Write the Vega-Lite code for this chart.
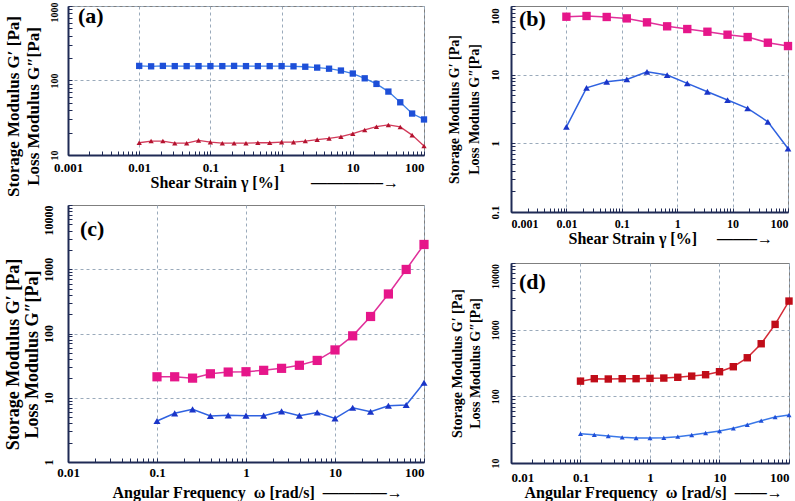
{
  "$schema": "https://vega.github.io/schema/vega-lite/v6.json",
  "background": "white",
  "padding": {"left": 3, "top": 1, "right": 0, "bottom": 0},
  "config": {
    "view": {"stroke": "#7f7f7f", "strokeWidth": 1},
    "axis": {
      "domainColor": "#1f2a55", "domainWidth": 2,
      "gridColor": "#9aaabb", "gridDash": [3, 3], "gridWidth": 1,
      "tickColor": "#1f2a55", "tickSize": -4, "tickWidth": 1,
      "labelFont": "Liberation Serif", "labelFontWeight": "bold", "labelColor": "#000",
      "titleFont": "Liberation Serif", "titleFontWeight": "bold", "titleColor": "#000",
      "labelOverlap": false
    },
    "title": {"anchor": "start", "frame": "group", "orient": "top", "baseline": "top", "fontSize": 22, "font": "Liberation Serif", "fontWeight": "bold", "color": "#000"}
  },
  "data": {"values": [
    {"panel":"a","series":"storage","x":0.01,"y":157},{"panel":"a","series":"storage","x":0.0147,"y":155},{"panel":"a","series":"storage","x":0.0215,"y":157},{"panel":"a","series":"storage","x":0.0316,"y":156},{"panel":"a","series":"storage","x":0.0464,"y":156},{"panel":"a","series":"storage","x":0.0681,"y":156},{"panel":"a","series":"storage","x":0.1,"y":156},{"panel":"a","series":"storage","x":0.147,"y":156},{"panel":"a","series":"storage","x":0.215,"y":157},{"panel":"a","series":"storage","x":0.316,"y":156},{"panel":"a","series":"storage","x":0.464,"y":156},{"panel":"a","series":"storage","x":0.681,"y":156},{"panel":"a","series":"storage","x":1,"y":156},{"panel":"a","series":"storage","x":1.47,"y":155},{"panel":"a","series":"storage","x":2.15,"y":153},{"panel":"a","series":"storage","x":3.16,"y":149},{"panel":"a","series":"storage","x":4.64,"y":144},{"panel":"a","series":"storage","x":6.81,"y":136},{"panel":"a","series":"storage","x":10,"y":124},{"panel":"a","series":"storage","x":14.7,"y":107},{"panel":"a","series":"storage","x":21.5,"y":90},{"panel":"a","series":"storage","x":31.6,"y":71},{"panel":"a","series":"storage","x":46.4,"y":51},{"panel":"a","series":"storage","x":68.1,"y":36},{"panel":"a","series":"storage","x":100,"y":30},
    {"panel":"a","series":"loss","x":0.01,"y":14.6},{"panel":"a","series":"loss","x":0.0147,"y":15.4},{"panel":"a","series":"loss","x":0.0215,"y":15.4},{"panel":"a","series":"loss","x":0.0316,"y":14.4},{"panel":"a","series":"loss","x":0.0464,"y":14.4},{"panel":"a","series":"loss","x":0.0681,"y":15.7},{"panel":"a","series":"loss","x":0.1,"y":14.9},{"panel":"a","series":"loss","x":0.147,"y":14.4},{"panel":"a","series":"loss","x":0.215,"y":14.4},{"panel":"a","series":"loss","x":0.316,"y":14.4},{"panel":"a","series":"loss","x":0.464,"y":14.6},{"panel":"a","series":"loss","x":0.681,"y":14.6},{"panel":"a","series":"loss","x":1,"y":14.9},{"panel":"a","series":"loss","x":1.47,"y":14.9},{"panel":"a","series":"loss","x":2.15,"y":15.4},{"panel":"a","series":"loss","x":3.16,"y":16.1},{"panel":"a","series":"loss","x":4.64,"y":16.7},{"panel":"a","series":"loss","x":6.81,"y":17.6},{"panel":"a","series":"loss","x":10,"y":19.3},{"panel":"a","series":"loss","x":14.7,"y":21.7},{"panel":"a","series":"loss","x":21.5,"y":24},{"panel":"a","series":"loss","x":31.6,"y":25.3},{"panel":"a","series":"loss","x":46.4,"y":23.8},{"panel":"a","series":"loss","x":68.1,"y":18.5},{"panel":"a","series":"loss","x":100,"y":13.2},
    {"panel":"b","series":"storage","x":0.01,"y":69.8},{"panel":"b","series":"storage","x":0.0231,"y":71.5},{"panel":"b","series":"storage","x":0.0534,"y":69.2},{"panel":"b","series":"storage","x":0.123,"y":66},{"panel":"b","series":"storage","x":0.285,"y":57.8},{"panel":"b","series":"storage","x":0.658,"y":50.6},{"panel":"b","series":"storage","x":1.52,"y":46.2},{"panel":"b","series":"storage","x":3.51,"y":42.2},{"panel":"b","series":"storage","x":8.11,"y":38.2},{"panel":"b","series":"storage","x":18.7,"y":35.3},{"panel":"b","series":"storage","x":43.3,"y":29.2},{"panel":"b","series":"storage","x":100,"y":26.1},
    {"panel":"b","series":"loss","x":0.01,"y":1.74},{"panel":"b","series":"loss","x":0.0231,"y":6.44},{"panel":"b","series":"loss","x":0.0534,"y":7.88},{"panel":"b","series":"loss","x":0.123,"y":8.53},{"panel":"b","series":"loss","x":0.285,"y":11.0},{"panel":"b","series":"loss","x":0.658,"y":9.86},{"panel":"b","series":"loss","x":1.52,"y":7.46},{"panel":"b","series":"loss","x":3.51,"y":5.64},{"panel":"b","series":"loss","x":8.11,"y":4.27},{"panel":"b","series":"loss","x":18.7,"y":3.23},{"panel":"b","series":"loss","x":43.3,"y":2.06},{"panel":"b","series":"loss","x":100,"y":0.84},
    {"panel":"c","series":"storage","x":0.1,"y":21.2},{"panel":"c","series":"storage","x":0.158,"y":21.2},{"panel":"c","series":"storage","x":0.251,"y":20.2},{"panel":"c","series":"storage","x":0.398,"y":23.6},{"panel":"c","series":"storage","x":0.631,"y":25.1},{"panel":"c","series":"storage","x":1,"y":25.4},{"panel":"c","series":"storage","x":1.58,"y":26.7},{"panel":"c","series":"storage","x":2.51,"y":28.7},{"panel":"c","series":"storage","x":3.98,"y":32},{"panel":"c","series":"storage","x":6.31,"y":38.1},{"panel":"c","series":"storage","x":10,"y":55.5},{"panel":"c","series":"storage","x":15.8,"y":92},{"panel":"c","series":"storage","x":25.1,"y":184},{"panel":"c","series":"storage","x":39.8,"y":412},{"panel":"c","series":"storage","x":63.1,"y":993},{"panel":"c","series":"storage","x":100,"y":2430},
    {"panel":"c","series":"loss","x":0.1,"y":4.34},{"panel":"c","series":"loss","x":0.158,"y":5.72},{"panel":"c","series":"loss","x":0.251,"y":6.59},{"panel":"c","series":"loss","x":0.398,"y":5.19},{"panel":"c","series":"loss","x":0.631,"y":5.32},{"panel":"c","series":"loss","x":1,"y":5.26},{"panel":"c","series":"loss","x":1.58,"y":5.26},{"panel":"c","series":"loss","x":2.51,"y":6.14},{"panel":"c","series":"loss","x":3.98,"y":5.26},{"panel":"c","series":"loss","x":6.31,"y":5.9},{"panel":"c","series":"loss","x":10,"y":4.78},{"panel":"c","series":"loss","x":15.8,"y":7.0},{"panel":"c","series":"loss","x":25.1,"y":6.06},{"panel":"c","series":"loss","x":39.8,"y":7.5},{"panel":"c","series":"loss","x":63.1,"y":7.7},{"panel":"c","series":"loss","x":100,"y":17.1},
    {"panel":"d","series":"storage","x":0.1,"y":169},{"panel":"d","series":"storage","x":0.158,"y":184},{"panel":"d","series":"storage","x":0.251,"y":182},{"panel":"d","series":"storage","x":0.398,"y":184},{"panel":"d","series":"storage","x":0.631,"y":184},{"panel":"d","series":"storage","x":1,"y":186},{"panel":"d","series":"storage","x":1.58,"y":188},{"panel":"d","series":"storage","x":2.51,"y":193},{"panel":"d","series":"storage","x":3.98,"y":201},{"panel":"d","series":"storage","x":6.31,"y":211},{"panel":"d","series":"storage","x":10,"y":234},{"panel":"d","series":"storage","x":15.8,"y":278},{"panel":"d","series":"storage","x":25.1,"y":379},{"panel":"d","series":"storage","x":39.8,"y":615},{"panel":"d","series":"storage","x":63.1,"y":1200},{"panel":"d","series":"storage","x":100,"y":2685},
    {"panel":"d","series":"loss","x":0.1,"y":27.5},{"panel":"d","series":"loss","x":0.158,"y":26.5},{"panel":"d","series":"loss","x":0.251,"y":25.4},{"panel":"d","series":"loss","x":0.398,"y":24.3},{"panel":"d","series":"loss","x":0.631,"y":23.7},{"panel":"d","series":"loss","x":1,"y":23.7},{"panel":"d","series":"loss","x":1.58,"y":23.9},{"panel":"d","series":"loss","x":2.51,"y":24.8},{"panel":"d","series":"loss","x":3.98,"y":26.3},{"panel":"d","series":"loss","x":6.31,"y":28.2},{"panel":"d","series":"loss","x":10,"y":30.2},{"panel":"d","series":"loss","x":15.8,"y":33.1},{"panel":"d","series":"loss","x":25.1,"y":37.5},{"panel":"d","series":"loss","x":39.8,"y":43.1},{"panel":"d","series":"loss","x":63.1,"y":49},{"panel":"d","series":"loss","x":100,"y":52.5}
  ]},
  "spacing": 16,
  "resolve": {"scale": {"x": "independent", "y": "independent", "stroke": "independent", "fill": "independent", "shape": "independent", "size": "independent"}},
  "hconcat": [
    {
      "vconcat": [
        {
          "width": 356, "height": 149,
          "title": {"text": "(a)", "offset": -26, "dx": 10},
          "transform": [{"filter": "datum.panel == 'a'"}],
          "encoding": {
            "x": {"field": "x", "type": "quantitative",
              "scale": {"type": "log", "domain": [0.001, 100], "nice": false},
              "axis": {
                "values": [0.001,0.002,0.003,0.004,0.005,0.006,0.007,0.008,0.009,0.01,0.02,0.03,0.04,0.05,0.06,0.07,0.08,0.09,0.1,0.2,0.3,0.4,0.5,0.6,0.7,0.8,0.9,1,2,3,4,5,6,7,8,9,10,20,30,40,50,60,70,80,90,100],
                "labelExpr": "indexof([0.001,0.01,0.1,1,10,100], datum.value) >= 0 ? '' + datum.value : ''",
                "gridOpacity": {"condition": {"test": "indexof([0.001,0.01,0.1,1,10,100], datum.value) >= 0", "value": 1}, "value": 0},
                "labelAlign": {"condition": {"test": "datum.value == 100", "value": "right"}, "value": "center"},
                "labelFontSize": 13, "labelPadding": 10,
                "title": "Shear Strain γ [%]\u00a0\u00a0\u00a0\u00a0\u00a0\u00a0\u00a0\u00a0————–→", "titleFontSize": 16, "titleAlign": "left", "titleX": 82, "titlePadding": 0
              }},
            "y": {"field": "y", "type": "quantitative",
              "scale": {"type": "log", "domain": [10, 1000], "nice": false},
              "axis": {
                "values": [10,20,30,40,50,60,70,80,90,100,200,300,400,500,600,700,800,900,1000],
                "labelExpr": "indexof([10,100,1000], datum.value) >= 0 ? '' + datum.value : ''",
                "gridOpacity": {"condition": {"test": "indexof([10,100,1000], datum.value) >= 0", "value": 1}, "value": 0},
                "labelOffset": {"condition": {"test": "datum.value == 1000", "value": 6}, "value": 0},
                "labelAngle": 270, "labelAlign": "center", "labelBaseline": "bottom",
                "labelFontSize": 10, "labelPadding": 13,
                "title": ["Storage Modulus G′ [Pa]", "Loss Modulus G″[Pa]"], "titleFontSize": 17, "titleLineHeight": 20, "titlePadding": 7, "titleY": 100
              }}
          },
          "layer": [
            {"mark": {"type": "line", "strokeWidth": 1.3},
             "encoding": {"stroke": {"field": "series", "type": "nominal", "scale": {"domain": ["storage", "loss"], "range": ["#3d7fe6", "#d23a5a"]}, "legend": null}}},
            {"mark": {"type": "point", "filled": true, "opacity": 1},
             "encoding": {
               "fill": {"field": "series", "type": "nominal", "scale": {"domain": ["storage", "loss"], "range": ["#1d4fd8", "#b3122e"]}, "legend": null},
               "shape": {"field": "series", "type": "nominal", "scale": {"domain": ["storage", "loss"], "range": ["square", "triangle-up"]}, "legend": null},
               "size": {"field": "series", "type": "nominal", "scale": {"domain": ["storage", "loss"], "range": [40, 28]}, "legend": null}}}
          ]
        },
        {
          "width": 356, "height": 257,
          "title": {"text": "(c)", "offset": -36, "dx": 12},
          "transform": [{"filter": "datum.panel == 'c'"}],
          "encoding": {
            "x": {"field": "x", "type": "quantitative",
              "scale": {"type": "log", "domain": [0.01, 100], "nice": false},
              "axis": {
                "values": [0.01,0.02,0.03,0.04,0.05,0.06,0.07,0.08,0.09,0.1,0.2,0.3,0.4,0.5,0.6,0.7,0.8,0.9,1,2,3,4,5,6,7,8,9,10,20,30,40,50,60,70,80,90,100],
                "labelExpr": "indexof([0.01,0.1,1,10,100], datum.value) >= 0 ? '' + datum.value : ''",
                "gridOpacity": {"condition": {"test": "indexof([0.01,0.1,1,10,100], datum.value) >= 0", "value": 1}, "value": 0},
                "labelAlign": {"condition": {"test": "datum.value == 100", "value": "right"}, "value": "center"},
                "labelFontSize": 13, "labelPadding": 8,
                "title": "Angular Frequency\u00a0\u00a0ω [rad/s]\u00a0\u00a0————→", "titleFontSize": 16, "titleAlign": "left", "titleX": 44, "titlePadding": 5
              }},
            "y": {"field": "y", "type": "quantitative",
              "scale": {"type": "log", "domain": [1, 10000], "nice": false},
              "axis": {
                "values": [1,2,3,4,5,6,7,8,9,10,20,30,40,50,60,70,80,90,100,200,300,400,500,600,700,800,900,1000,2000,3000,4000,5000,6000,7000,8000,9000,10000],
                "labelExpr": "indexof([1,10,100,1000,10000], datum.value) >= 0 ? '' + datum.value : ''",
                "gridOpacity": {"condition": {"test": "indexof([10,100,1000], datum.value) >= 0", "value": 1}, "value": 0},
                "labelOffset": {"condition": {"test": "datum.value == 10000", "value": 15}, "value": 0},
                "labelAngle": 270, "labelAlign": "center", "labelBaseline": "bottom",
                "labelFontSize": 12, "labelPadding": 17,
                "title": ["Storage Modulus G′ [Pa]", "Loss Modulus G″[Pa]"], "titleFontSize": 18, "titleLineHeight": 19, "titlePadding": 1, "titleY": 149
              }}
          },
          "layer": [
            {"mark": {"type": "line", "strokeWidth": 1.5},
             "encoding": {"stroke": {"field": "series", "type": "nominal", "scale": {"domain": ["storage", "loss"], "range": ["#e0309a", "#2f62e0"]}, "legend": null}}},
            {"mark": {"type": "point", "filled": true, "opacity": 1},
             "encoding": {
               "fill": {"field": "series", "type": "nominal", "scale": {"domain": ["storage", "loss"], "range": ["#e6168a", "#1a35c8"]}, "legend": null},
               "shape": {"field": "series", "type": "nominal", "scale": {"domain": ["storage", "loss"], "range": ["square", "triangle-up"]}, "legend": null},
               "size": {"field": "series", "type": "nominal", "scale": {"domain": ["storage", "loss"], "range": [85, 50]}, "legend": null}}}
          ]
        }
      ],
      "spacing": 50,
      "bounds": "flush",
      "resolve": {"scale": {"x": "independent", "y": "independent", "stroke": "independent", "fill": "independent", "shape": "independent", "size": "independent"}}
    },
    {
      "vconcat": [
        {
          "width": 277, "height": 206,
          "title": {"text": "(b)", "offset": -25, "dx": 8},
          "transform": [{"filter": "datum.panel == 'b'"}],
          "encoding": {
            "x": {"field": "x", "type": "quantitative",
              "scale": {"type": "log", "domain": [0.001, 100], "nice": false},
              "axis": {
                "values": [0.001,0.002,0.003,0.004,0.005,0.006,0.007,0.008,0.009,0.01,0.02,0.03,0.04,0.05,0.06,0.07,0.08,0.09,0.1,0.2,0.3,0.4,0.5,0.6,0.7,0.8,0.9,1,2,3,4,5,6,7,8,9,10,20,30,40,50,60,70,80,90,100],
                "labelExpr": "indexof([0.001,0.01,0.1,1,10,100], datum.value) >= 0 ? '' + datum.value : ''",
                "gridOpacity": {"condition": {"test": "indexof([0.001,0.01,0.1,1,10,100], datum.value) >= 0", "value": 1}, "value": 0},
                "labelFlush": true,
                "labelFontSize": 12, "labelPadding": 10,
                "title": "Shear Strain γ [%]\u00a0\u00a0\u00a0\u00a0\u00a0——–→", "titleFontSize": 16, "titleAlign": "left", "titleX": 57, "titlePadding": 1
              }},
            "y": {"field": "y", "type": "quantitative",
              "scale": {"type": "log", "domain": [0.1, 100], "nice": false},
              "axis": {
                "values": [0.1,0.2,0.3,0.4,0.5,0.6,0.7,0.8,0.9,1,2,3,4,5,6,7,8,9,10,20,30,40,50,60,70,80,90,100],
                "labelExpr": "indexof([0.1,1,10,100], datum.value) >= 0 ? '' + datum.value : ''",
                "gridOpacity": {"condition": {"test": "indexof([1,10], datum.value) >= 0", "value": 1}, "value": 0},
                "labelOffset": {"condition": {"test": "datum.value == 100", "value": 10}, "value": 0},
                "labelAngle": 270, "labelAlign": "center", "labelBaseline": "bottom",
                "labelFontSize": 11, "labelPadding": 15,
                "title": ["Storage Modulus G′ [Pa]", "Loss Modulus G″[Pa]"], "titleFontSize": 14, "titleLineHeight": 20, "titlePadding": 8
              }}
          },
          "layer": [
            {"mark": {"type": "line", "strokeWidth": 1.5},
             "encoding": {"stroke": {"field": "series", "type": "nominal", "scale": {"domain": ["storage", "loss"], "range": ["#e0309a", "#2f62e0"]}, "legend": null}}},
            {"mark": {"type": "point", "filled": true, "opacity": 1},
             "encoding": {
               "fill": {"field": "series", "type": "nominal", "scale": {"domain": ["storage", "loss"], "range": ["#e6168a", "#1a35c8"]}, "legend": null},
               "shape": {"field": "series", "type": "nominal", "scale": {"domain": ["storage", "loss"], "range": ["square", "triangle-up"]}, "legend": null},
               "size": {"field": "series", "type": "nominal", "scale": {"domain": ["storage", "loss"], "range": [70, 45]}, "legend": null}}}
          ]
        },
        {
          "width": 278, "height": 200,
          "title": {"text": "(d)", "offset": -31, "dx": 8},
          "transform": [{"filter": "datum.panel == 'd'"}],
          "encoding": {
            "x": {"field": "x", "type": "quantitative",
              "scale": {"type": "log", "domain": [0.01, 100], "nice": false},
              "axis": {
                "values": [0.01,0.02,0.03,0.04,0.05,0.06,0.07,0.08,0.09,0.1,0.2,0.3,0.4,0.5,0.6,0.7,0.8,0.9,1,2,3,4,5,6,7,8,9,10,20,30,40,50,60,70,80,90,100],
                "labelExpr": "indexof([0.01,0.1,1,10,100], datum.value) >= 0 ? '' + datum.value : ''",
                "gridOpacity": {"condition": {"test": "indexof([0.01,0.1,1,10,100], datum.value) >= 0", "value": 1}, "value": 0},
                "labelFlush": true,
                "labelFontSize": 13, "labelPadding": 12,
                "title": "Angular Frequency\u00a0\u00a0ω [rad/s]\u00a0\u00a0——→", "titleFontSize": 16, "titleAlign": "left", "titleX": 13, "titlePadding": 0
              }},
            "y": {"field": "y", "type": "quantitative",
              "scale": {"type": "log", "domain": [10, 10000], "nice": false},
              "axis": {
                "values": [10,20,30,40,50,60,70,80,90,100,200,300,400,500,600,700,800,900,1000,2000,3000,4000,5000,6000,7000,8000,9000,10000],
                "labelExpr": "indexof([10,100,1000,10000], datum.value) >= 0 ? '' + datum.value : ''",
                "gridOpacity": {"condition": {"test": "indexof([100,1000], datum.value) >= 0", "value": 1}, "value": 0},
                "labelOffset": {"condition": {"test": "datum.value == 10000", "value": 13}, "value": 0},
                "labelAngle": 270, "labelAlign": "center", "labelBaseline": "bottom",
                "labelFontSize": 10, "labelPadding": 15,
                "title": ["Storage Modulus G′ [Pa]", "Loss Modulus G″[Pa]"], "titleFontSize": 14, "titleLineHeight": 18, "titlePadding": 8
              }}
          },
          "layer": [
            {"mark": {"type": "line", "strokeWidth": 1.5},
             "encoding": {"stroke": {"field": "series", "type": "nominal", "scale": {"domain": ["storage", "loss"], "range": ["#d42a36", "#3a78e8"]}, "legend": null}}},
            {"mark": {"type": "point", "filled": true, "opacity": 1},
             "encoding": {
               "fill": {"field": "series", "type": "nominal", "scale": {"domain": ["storage", "loss"], "range": ["#c00c18", "#1f4fd8"]}, "legend": null},
               "shape": {"field": "series", "type": "nominal", "scale": {"domain": ["storage", "loss"], "range": ["square", "triangle-up"]}, "legend": null},
               "size": {"field": "series", "type": "nominal", "scale": {"domain": ["storage", "loss"], "range": [55, 25]}, "legend": null}}}
          ]
        }
      ],
      "spacing": 51,
      "bounds": "flush",
      "resolve": {"scale": {"x": "independent", "y": "independent", "stroke": "independent", "fill": "independent", "shape": "independent", "size": "independent"}}
    }
  ]
}
